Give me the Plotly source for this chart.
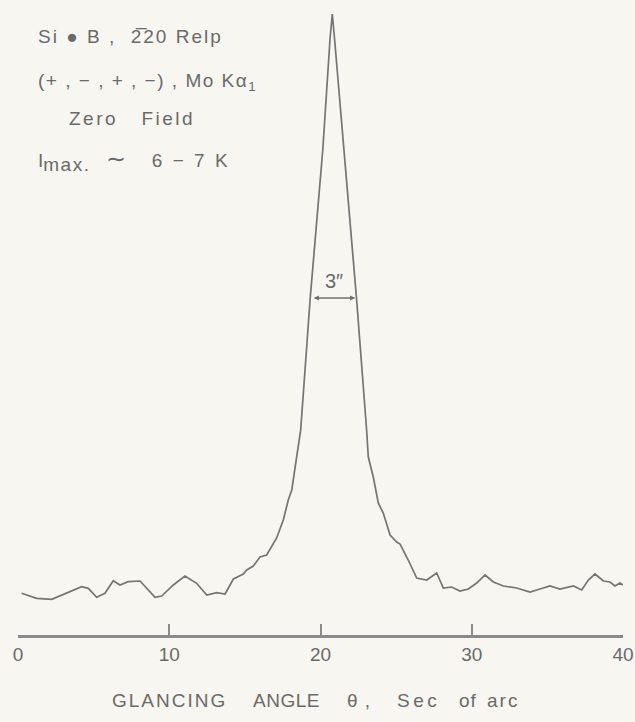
import plotly.graph_objects as go

# Glancing angle (sec of arc) and relative intensity (arbitrary units)
theta = [0.24, 1.23, 2.23, 3.22, 4.21, 4.65, 5.2, 5.75, 6.3, 6.74, 7.29, 8.07, 8.5, 9.06, 9.5,
         10.27, 11.04, 11.81, 12.48, 13.14, 13.69, 14.24, 14.9, 15.12, 15.56, 16.0, 16.44,
         17.1, 17.54, 17.87, 18.1, 18.31, 18.53, 18.69, 19.31, 20.15, 20.63, 20.78, 20.93,
         21.55, 22.39, 23.05, 23.16, 23.49, 23.82, 24.15, 24.6, 25.04, 25.26, 25.8, 26.36,
         27.02, 27.68, 28.12, 28.67, 29.22, 29.77, 30.33, 30.88, 31.43, 32.09, 32.97, 33.85,
         34.51, 35.17, 35.83, 36.72, 37.27, 37.71, 38.15, 38.7, 39.14, 39.47, 39.8, 40.0]
intensity = [41.7, 36.7, 35.7, 42.3, 48.3, 46.7, 37.7, 41.7, 54.3, 50, 53.3, 54, 46.7, 37.7, 39,
             50, 59, 51.7, 40, 42.3, 41, 56, 61, 65, 69, 78, 80,
             97, 115, 135, 145, 168, 192, 205, 335, 485, 596, 621, 596,
             485, 335, 205, 178, 158, 132, 122, 100, 93, 91, 75, 57,
             55, 62, 47, 48, 44, 46, 52, 60, 53, 49, 47, 43,
             46, 49, 46, 49, 45, 55, 61, 54, 53, 49, 52, 50]

tick_vals = [0, 10, 20, 30, 40]
tick_text = ["0", "10", "20", "30", "40"]

fwhm_left = 19.45
fwhm_right = 22.3
fwhm_level = 337
fwhm_label = "3\u2033"

ink = "#6a6a6a"
paper = "#f7f6f1"
font_family = "Liberation Sans, Arial, sans-serif"

W, H = 635, 722
L, R, T, B = 18, 12, 0, 87
PW, PH = W - L - R, H - T - B


def px(x):
    return (x - L) / PW


def py(y):
    return 1 - (y - T) / PH


def spaced(txt, sp):
    return "<span style='letter-spacing:%spx'>%s</span>" % (sp, txt)


fig = go.Figure()
fig.add_trace(go.Scatter(x=theta, y=intensity, mode="lines",
                         line=dict(color="#747474", width=1.7), hoverinfo="skip"))

fig.update_layout(
    width=W, height=H,
    margin=dict(l=L, r=R, t=T, b=B),
    paper_bgcolor=paper, plot_bgcolor=paper,
    showlegend=False,
    xaxis=dict(range=[0, 40], tickvals=tick_vals, ticktext=tick_text,
               showgrid=False, zeroline=False, showline=True,
               linecolor="#8a8a8a", linewidth=2.5,
               ticks="inside", ticklen=11, tickwidth=2, tickcolor="#8a8a8a",
               tickfont=dict(family=font_family, size=19, color=ink)),
    yaxis=dict(range=[0, 635], visible=False),
)

# FWHM marker
fig.add_annotation(x=fwhm_right, y=fwhm_level, ax=fwhm_left, ay=fwhm_level,
                   xref="x", yref="y", axref="x", ayref="y", text="",
                   showarrow=True, arrowhead=2, arrowside="end+start",
                   arrowsize=0.8, arrowwidth=1.3, arrowcolor="#707070")
fig.add_annotation(x=(fwhm_left + fwhm_right) / 2, y=fwhm_level + 17, xref="x", yref="y",
                   text=fwhm_label, showarrow=False,
                   font=dict(family=font_family, size=20, color=ink))

# Upper-left legend text (text, left px, centre y px)
lines = [
    (spaced("Si \u25CF B ,  2\u030520 Relp", 2), 36, 37),
    (spaced("(+ , \u2212 , + , \u2212) , Mo K\u03B1", 1.5) + "<sub>1</sub>", 36, 82),
    (spaced("Zero   Field", 2.5), 67, 118),
    ("I<sub><span style='font-size:19px;letter-spacing:1.5px'>max.</span></sub>"
     + spaced("  <span style='font-size:24px'>\u223C</span>   6 \u2212 7 K", 2.5), 36, 160),
]
for txt, lx, cy in lines:
    fig.add_annotation(x=px(lx), y=py(cy), xref="paper", yref="paper",
                       text=txt, showarrow=False, xanchor="left", yanchor="middle",
                       font=dict(family=font_family, size=19, color=ink))

# Axis title, word by word as spaced on the original lettering
title_words = [("GLANCING", 169, 2), ("ANGLE", 286, 0.5), ("\u03B8 ,", 359, 1),
               ("Sec", 418, 3.5), ("of", 468, 1), ("arc", 503, 2)]
for w, cx, sp in title_words:
    fig.add_annotation(x=px(cx), y=py(700), xref="paper", yref="paper",
                       text=spaced(w, sp), showarrow=False, xanchor="center", yanchor="middle",
                       font=dict(family=font_family, size=19, color=ink))

fig.write_html("out.html", config={"displayModeBar": False},
               post_script="document.body.style.margin='0';")
